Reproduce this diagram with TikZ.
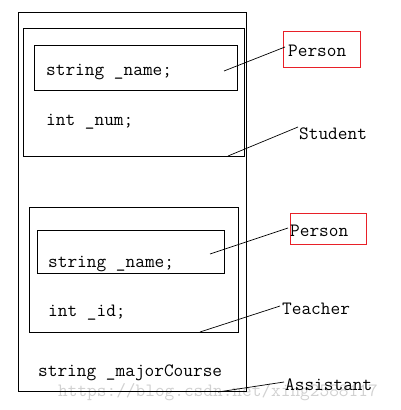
\documentclass[tikz,border=0pt]{standalone}
\usetikzlibrary{fit}
\definecolor{lred}{RGB}{232,32,40}
\begin{document}
\begin{tikzpicture}[x=1pt,y=-1pt,
  box/.style={draw, line width=0.8pt, inner sep=0pt},
  redbox/.style={draw=lred, line width=0.8pt, inner sep=0pt},
  code/.style={anchor=west, inner sep=0pt, font=\fontsize{18.8}{20}\selectfont\ttfamily},
  conn/.style={line width=0.7pt}]
\useasboundingbox (0,0) rectangle (400,410);
\node[code, text=black!18] (wm) at (58,392) {https://blog.csdn.net/xing2588117};
% boxes
\node[box, fit={(18,12) (246,391)}] (assistantbox) {};
\node[box, fit={(23,28) (244,156)}] (studentbox) {};
\node[box, fit={(34,45) (237,90)}] (person1) {};
\node[box, fit={(29,207) (238,332)}] (teacherbox) {};
\node[box, fit={(37,230) (224,273)}] (person2) {};
% code texts
\node[code] (sname1) at (46,72) {string \_name;};
\node[code] (inum) at (46,122) {int \_num;};
\node[code] (sname2) at (48,264) {string \_name;};
\node[code] (iid) at (48,313) {int \_id;};
\node[code] (smajor) at (38,373) {string \_majorCourse};
% labels
\node[redbox, fit={(283,31) (360,67)}] (plab1) {};
\node[code] (ptext1) at (288,51) {Person};
\node[redbox, fit={(290,213) (366,244)}] (plab2) {};
\node[code] (ptext2) at (290,231) {Person};
\node[code] (stu) at (299,134) {Student};
\node[code] (tea) at (282,309) {Teacher};
\node[code] (ass) at (285,385) {Assistant};
% connector start points
\coordinate (c1) at (224,71);
\coordinate (c2) at (228,156);
\coordinate (c3) at (210,254);
\coordinate (c4) at (200,332);
\coordinate (c5) at (218,392);
\coordinate (e1) at (285,47);
\coordinate (e2) at (298,127);
\coordinate (e3) at (288,228);
\coordinate (e4) at (280,306);
\coordinate (e5) at (284,382);
\draw[conn] (c1) -- (e1);
\draw[conn] (c2) -- (e2);
\draw[conn] (c3) -- (e3);
\draw[conn] (c4) -- (e4);
\draw[conn] (c5) -- (e5);
\end{tikzpicture}
\end{document}
